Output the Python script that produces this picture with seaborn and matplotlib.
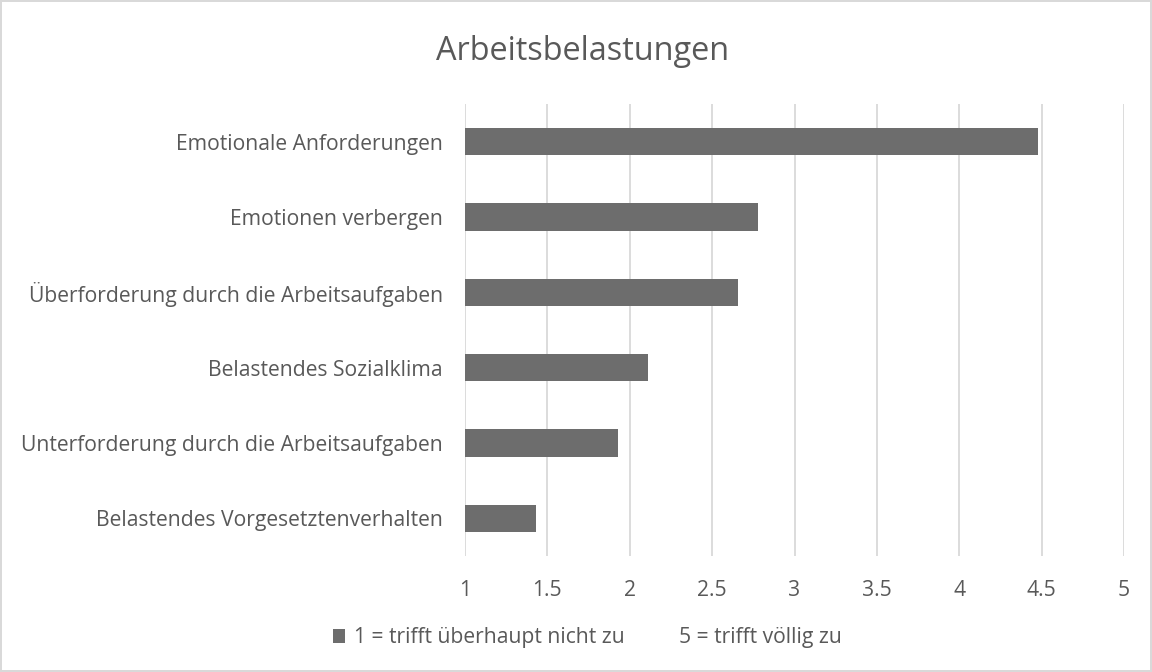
import matplotlib
matplotlib.use("Agg")
import matplotlib.pyplot as plt
import matplotlib.patches as mpatches
import seaborn as sns
import pandas as pd

categories = [
    "Emotionale Anforderungen",
    "Emotionen verbergen",
    "Überforderung durch die Arbeitsaufgaben",
    "Belastendes Sozialklima",
    "Unterforderung durch die Arbeitsaufgaben",
    "Belastendes Vorgesetztenverhalten",
]
values = [4.48, 2.78, 2.66, 2.11, 1.93, 1.43]
x_ticks = [1, 1.5, 2, 2.5, 3, 3.5, 4, 4.5, 5]
x_tick_labels = ["1", "1.5", "2", "2.5", "3", "3.5", "4", "4.5", "5"]
title = "Arbeitsbelastungen"
legend_labels = ["1 = trifft überhaupt nicht zu", "5 = trifft völlig zu"]

sns.set_theme(style="white")
FONT = ["Open Sans", "DejaVu Sans"]
plt.rcParams["font.family"] = FONT
TXT = "#595959"
FS = 15.2

df = pd.DataFrame({"cat": categories, "val": values})

fig = plt.figure(figsize=(11.52, 6.72), dpi=100)
fig.patch.set_facecolor("white")
fig.patch.set_edgecolor("#d9d9d9")
fig.patch.set_linewidth(1.5)
ax = fig.add_axes([465 / 1152, 1 - 556 / 672, 659 / 1152, 452 / 672])

sns.barplot(data=df, x="val", y="cat", orient="h", color="#6d6d6d",
            saturation=1, width=0.36, ax=ax, linewidth=0)
# bars start from 1 (axis origin)
for p in ax.patches:
    w = p.get_width()
    p.set_x(1)
    p.set_width(w - 1)

ax.set_xlim(1, 5)
ax.set_ylim(5.5, -0.5)
ax.set_xticks(x_ticks)
ax.set_xticklabels(x_tick_labels)
ax.xaxis.grid(True, color="#d9d9d9", linewidth=1.3)
ax.set_axisbelow(True)
for s in ax.spines.values():
    s.set_visible(False)
ax.tick_params(axis="both", length=0, labelsize=FS, colors=TXT)
ax.tick_params(axis="x", pad=17)
ax.tick_params(axis="y", pad=16)
ax.set_xlabel("")
ax.set_ylabel("")

fig.text(0.506, 1 - 52 / 672, title, ha="center", va="center",
         fontsize=23.4, color=TXT)

handles = [mpatches.Patch(facecolor="#6d6d6d", edgecolor="none"),
           mpatches.Patch(facecolor="none", edgecolor="none")]
fig.legend(handles, legend_labels, loc="center", bbox_to_anchor=(0.51, 1 - 638 / 672),
           ncol=2, frameon=False, fontsize=FS, labelcolor=TXT,
           handlelength=0.6, handleheight=0.6, handletextpad=0.4, columnspacing=1.6)

fig.savefig("out.png", dpi=100)
